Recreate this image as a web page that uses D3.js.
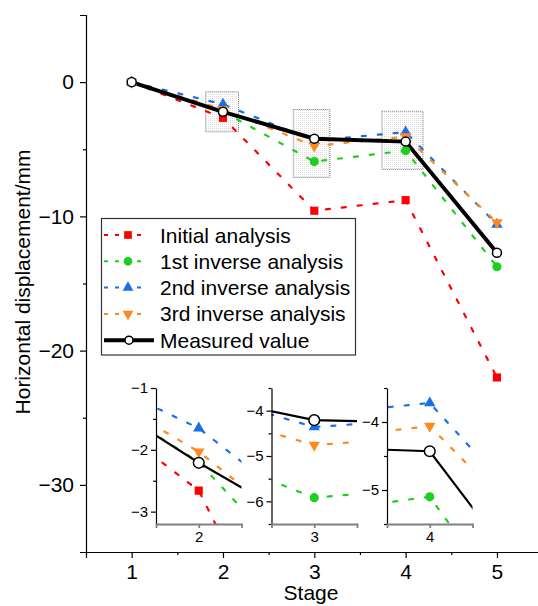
<!DOCTYPE html>
<html>
<head>
<meta charset="utf-8">
<script src="https://cdn.jsdelivr.net/npm/d3@7"></script>
<style>
  body { margin: 0; background: #fff; }
  svg { font-family: "Liberation Sans", Arial, sans-serif; }
</style>
</head>
<body>
<div id="chart"></div>
<script>
// data
var stages = [1, 2, 3, 4, 5];
var initialAnalysis = [0, -2.66, -9.58, -8.79, -22.0];
var firstInverse    = [0, -2.2, -5.92, -5.1, -13.75];
var secondInverse   = [0, -1.65, -4.36, -3.72, -10.6];
var thirdInverse    = [0, -2.03, -4.76, -4.06, -10.45];
var measured        = [0, -2.21, -4.21, -4.43, -12.71];
var seriesNames = ["Initial analysis", "1st inverse analysis", "2nd inverse analysis",
                   "3rd inverse analysis", "Measured value"];
var yTicks = [0, -10, -20, -30];
var yMinorTicks = [-5, -15, -25];
var xMinorTicks = [1.5, 2.5, 3.5, 4.5];

// zoomed insets
var insetStages = [2, 3, 4];
var insetXDomains = [[1.8, 2.2], [2.9, 3.1], [3.9, 4.1]];
var insetYDomains = [[-3.2, -1], [-6.5, -3.5], [-5.5, -3.5]];
var insetYTicks = [[-1, -2, -3], [-4, -5, -6], [-4, -5]];
var zoomBoxX = [[1.81, 2.17], [2.77, 3.17], [3.74, 4.19]];
var zoomBoxY = [[-0.72, -3.7], [-2.04, -7.1], [-2.17, -6.5]];

render();

function render() {
  var W = 538, H = 606;
  var svg = d3.select("#chart").append("svg")
    .attr("width", W).attr("height", H);

  var x = d3.scaleLinear().domain([0.5, 5.5]).range([86, 542.6]);
  var y = d3.scaleLinear().domain([-35, 5]).range([552, 15]);

  var series = [
    {name: seriesNames[0], values: initialAnalysis, color: "#ff0000", sym: d3.symbolSquare, size: 66, rot: 0, dash: true},
    {name: seriesNames[1], values: firstInverse, color: "#1ed01e", sym: d3.symbolCircle, size: 66, rot: 0, dash: true},
    {name: seriesNames[2], values: secondInverse, color: "#1a6fe8", sym: d3.symbolTriangle, size: 56, rot: 0, dash: true},
    {name: seriesNames[3], values: thirdInverse, color: "#ff8a1c", sym: d3.symbolTriangle, size: 56, rot: 180, dash: true},
    {name: seriesNames[4], values: measured, color: "#000", sym: d3.symbolCircle, size: 66, rot: 0, dash: false}
  ];

  var defs = svg.append("defs");
  var pat = defs.append("pattern").attr("id", "stipple")
    .attr("width", 2).attr("height", 2).attr("patternUnits", "userSpaceOnUse");
  pat.append("rect").attr("width", 1).attr("height", 1).attr("fill", "#bbb").attr("opacity", 0.5);

  // zoom boxes
  svg.selectAll(".zoombox")
    .data(zoomBoxX)
    .enter().append("rect")
    .attr("class", "zoombox")
    .attr("x", d => x(d[0]))
    .attr("y", (d, i) => y(zoomBoxY[i][0]))
    .attr("width", d => x(d[1]) - x(d[0]))
    .attr("height", (d, i) => y(zoomBoxY[i][1]) - y(zoomBoxY[i][0]))
    .attr("fill", "url(#stipple)")
    .attr("stroke", "#777")
    .attr("stroke-width", 1)
    .attr("stroke-dasharray", "1,1");

  // axes
  svg.append("g")
    .attr("transform", "translate(0,552)")
    .call(d3.axisBottom(x).tickValues(stages).tickSize(6).tickPadding(6).tickFormat(d3.format("d")));
  svg.append("g")
    .attr("transform", "translate(0,552)")
    .call(d3.axisBottom(x).tickValues(xMinorTicks).tickSize(3).tickFormat(""))
    .select(".domain").remove();

  svg.append("g")
    .attr("transform", "translate(86,0)")
    .call(d3.axisLeft(y).tickValues(yTicks).tickSize(6).tickPadding(6));
  svg.append("g")
    .attr("transform", "translate(86,0)")
    .call(d3.axisLeft(y).tickValues(yMinorTicks).tickSize(3).tickFormat(""))
    .select(".domain").remove();

  svg.selectAll(".tick text").attr("font-size", 21).attr("font-family", "Liberation Sans, Arial, sans-serif").attr("fill", "#000");
  svg.selectAll(".domain, .tick line").attr("stroke", "#000").attr("stroke-width", 1.2);

  svg.append("text")
    .attr("transform", "rotate(-90)")
    .attr("x", -282).attr("y", 29.5)
    .attr("text-anchor", "middle")
    .attr("font-size", 21)
    .text("Horizontal displacement/mm");

  svg.append("text")
    .attr("x", 311).attr("y", 600)
    .attr("text-anchor", "middle")
    .attr("font-size", 21)
    .text("Stage");

  drawSeries(svg, x, y, series, 1);

  // insets
  insetStages.forEach(function(st, i) {
    var left = 156 + i * 115.5, right = left + 85.5;
    var ix = d3.scaleLinear().domain(insetXDomains[i]).range([left, right]);
    var iy = d3.scaleLinear().domain(insetYDomains[i]).range([524, 388]);
    var g = svg.append("g");

    defs.append("clipPath").attr("id", "clip" + i)
      .append("rect").attr("x", left).attr("y", 388)
      .attr("width", right - left).attr("height", 136);

    var inner = g.append("g").attr("clip-path", "url(#clip" + i + ")");
    drawSeries(inner, ix, iy, series, 0.6);

    var yd = insetYDomains[i];
    var minor = d3.range(Math.ceil(yd[0] * 2) / 2, yd[1] + 1e-9, 0.5).filter(v => Math.abs(v % 1) > 1e-6);

    var ax = g.append("g").attr("transform", "translate(" + left + ",0)")
      .call(d3.axisLeft(iy).tickValues(insetYTicks[i]).tickSize(5).tickPadding(3).tickSizeOuter(0).tickFormat(d3.format("d")));
    g.append("g").attr("transform", "translate(" + left + ",0)")
      .call(d3.axisLeft(iy).tickValues(minor).tickSize(3).tickFormat(""))
      .select(".domain").remove();

    var bx = g.append("g").attr("transform", "translate(0,524)")
      .call(d3.axisBottom(ix).tickValues([st]).tickSize(4).tickPadding(3).tickSizeOuter(4).tickFormat(d3.format("d")));

    g.selectAll(".tick text").attr("font-size", 15).attr("font-family", "Liberation Sans, Arial, sans-serif").attr("fill", "#000");
    ax.selectAll(".domain, .tick line").attr("stroke", "#000").attr("stroke-width", 1.2);
    g.selectAll("g .tick line").attr("stroke-width", 1.2);
    bx.selectAll(".domain, .tick line").attr("stroke", "#808080").attr("stroke-width", 1.8);
  });

  // legend
  var lg = svg.append("g");
  lg.append("rect")
    .attr("x", 101.5).attr("y", 218.5)
    .attr("width", 254).attr("height", 136.5)
    .attr("fill", "#fff").attr("stroke", "#333").attr("stroke-width", 1.2);

  series.forEach(function(s, i) {
    var cy = 235 + i * 26.3;
    lg.append("line")
      .attr("x1", 104).attr("x2", s.dash ? 142 : 154)
      .attr("y1", cy).attr("y2", cy)
      .attr("stroke", s.color)
      .attr("stroke-width", s.dash ? 2 : 4)
      .attr("stroke-dasharray", s.dash ? "4,7" : null);
    lg.append("path")
      .attr("d", d3.symbol().type(s.sym).size(s.dash ? s.size * 0.9 : 50)())
      .attr("transform", "translate(" + (s.dash ? 128 : 129) + "," + cy + ") rotate(" + s.rot + ")")
      .attr("fill", s.dash ? s.color : "#fff")
      .attr("stroke", s.dash ? "none" : "#000")
      .attr("stroke-width", 1.5);
    lg.append("text")
      .attr("x", 160).attr("y", cy + 7.5)
      .attr("font-size", 21)
      .text(s.name);
  });
}

function drawSeries(g, xs, ys, series, thinFactor) {
  series.forEach(function(s) {
    var pts = stages.map((st, i) => [st, s.values[i]]);
    var line = d3.line().x(d => xs(d[0])).y(d => ys(d[1]));
    g.append("path")
      .datum(pts)
      .attr("d", line)
      .attr("fill", "none")
      .attr("stroke", s.color)
      .attr("stroke-width", s.dash ? 2.2 : (thinFactor < 1 ? 2.2 : 4))
      .attr("stroke-linecap", s.dash ? "round" : "butt")
      .attr("stroke-dasharray", s.dash ? "4,12" : null);
  });
  series.forEach(function(s) {
    var pts = stages.map((st, i) => [st, s.values[i]]);
    g.selectAll(null)
      .data(pts)
      .enter().append("path")
      .attr("d", d3.symbol().type(s.sym).size(s.dash ? s.size : (thinFactor < 1 ? 90 : 64))())
      .attr("transform", d => "translate(" + xs(d[0]) + "," + ys(d[1]) + ") rotate(" + s.rot + ")")
      .attr("fill", s.dash ? s.color : "#fff")
      .attr("stroke", s.dash ? "none" : "#000")
      .attr("stroke-width", 1.5);
  });
}
</script>
</body>
</html>
